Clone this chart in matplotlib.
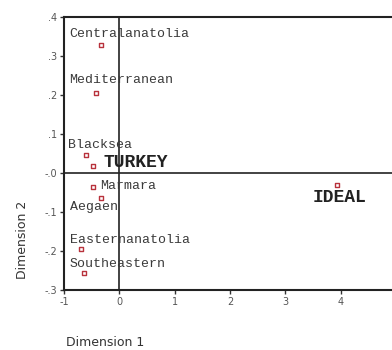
import matplotlib
matplotlib.use("Agg")
import matplotlib.pyplot as plt

names = ["Centralanatolia", "Mediterranean", "Blacksea", "TURKEY", "Marmara",
         "Aegaen", "Easternanatolia", "Southeastern", "IDEAL"]
dim1 = [-0.33, -0.42, -0.60, -0.48, -0.48, -0.34, -0.70, -0.63, 3.94]
dim2 = [0.328, 0.205, 0.046, 0.018, -0.036, -0.064, -0.195, -0.256, -0.03]
xticks = [-1, 0, 1, 2, 3, 4]
yticks = [0.4, 0.3, 0.2, 0.1, 0.0, -0.1, -0.2, -0.3]
yticklabels = [".4", ".3", ".2", ".1", "-.0", "-.1", "-.2", "-.3"]

# label offsets (in data units) relative to marker
label_dx = [-0.57, -0.48, -0.32, 0.19, 0.14, -0.56, -0.19, -0.27, -0.45]
label_dy = [0.028, 0.033, 0.026, 0.008, 0.003, -0.023, 0.023, 0.023, -0.034]
bold = [False, False, False, True, False, False, False, False, True]

fig = plt.figure(figsize=(3.92, 3.5), dpi=100)
ax = fig.add_axes([64/392, 1-290/350, 1-64/392, (290-17)/350])
ax.set_xlim(-1, 4.93)
ax.set_ylim(-0.3, 0.4)

ax.scatter(dim1, dim2, marker="s", s=12, facecolors="white",
           edgecolors="#b8323c", linewidths=1.0, zorder=3)

for n, x, y, dx, dy, b in zip(names, dim1, dim2, label_dx, label_dy, bold):
    ax.text(x + dx, y + dy, n, family="Liberation Mono",
            fontsize=13 if b else 9.5, fontweight="bold" if b else "normal",
            color="#222222" if b else "#3a3a3a", va="center", ha="left", zorder=4)

ax.axhline(0, color="#222222", lw=1.2, zorder=1)
ax.axvline(0, color="#222222", lw=1.2, zorder=1)

for s in ["left", "bottom", "top"]:
    ax.spines[s].set_linewidth(1.5)
    ax.spines[s].set_color("#222222")
ax.spines["right"].set_visible(False)

ax.set_xticks(xticks)
ax.set_xticklabels([str(t) for t in xticks])
ax.set_yticks(yticks)
ax.set_yticklabels(yticklabels)
ax.tick_params(axis="both", direction="out", length=3, width=1, colors="#333333",
               labelsize=7, labelcolor="#555555", pad=2)

fig.text(23/392, 1-240/350, "Dimension 2", rotation=90, ha="center", va="center",
         fontsize=9, color="#333333", family="DejaVu Sans")
fig.text(105/392, 1-343/350, "Dimension 1", ha="center", va="center",
         fontsize=9, color="#333333", family="DejaVu Sans")

fig.savefig("out.png", dpi=100)
